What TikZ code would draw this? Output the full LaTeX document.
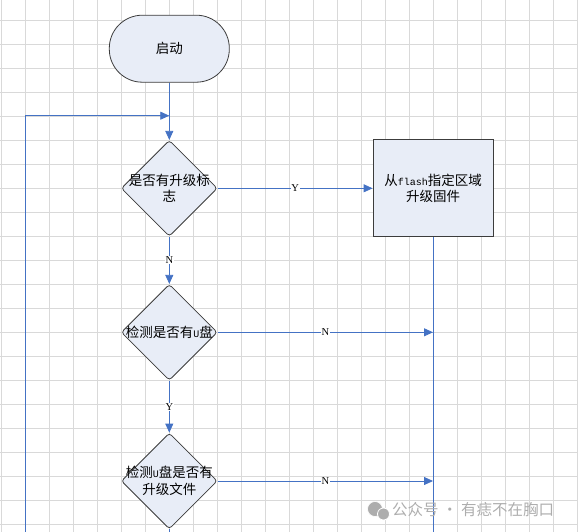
\documentclass[tikz,border=0pt]{standalone}
\usepackage{fontspec}
\setmainfont{Noto Sans CJK SC}
\newfontfamily\latinmono{Liberation Mono}
\newfontfamily\latinserif{Liberation Serif}
\usetikzlibrary{arrows.meta,shapes.geometric}
\definecolor{flowblue}{HTML}{4472C4}
\definecolor{shapefill}{HTML}{E8EDF7}
\definecolor{shapeedge}{HTML}{3C3C3C}
\definecolor{gridgray}{HTML}{D9D9D9}
\definecolor{markgray}{HTML}{ADADAD}
\newcommand{\lat}[1]{{\latinmono\fontsize{10}{12}\selectfont #1}}

\begin{document}
\begin{tikzpicture}[x=1pt, y=-1pt,
		cjk/.style={font=\fontsize{13.5}{16.7}\selectfont, align=center, inner sep=0pt},
		startbox/.style={draw=shapeedge, fill=shapefill, rectangle, rounded corners=33pt, minimum width=120pt, minimum height=67pt, line width=0.8pt},
		decide/.style={draw=shapeedge, fill=shapefill, diamond, rounded corners=3pt, minimum width=96pt, minimum height=96pt, inner sep=0pt, line width=0.8pt},
		actbox/.style={draw=shapeedge, fill=shapefill, rectangle, minimum width=120pt, minimum height=97pt, line width=0.8pt},
		flow/.style={draw=flowblue, line width=0.8pt},
		flowarrow/.style={flow, -{Triangle[length=9pt, width=8pt]}},
		yn/.style={font=\latinserif\fontsize{10.5}{10.5}\selectfont, fill=white, inner sep=0.6pt}]
	%%%%% START %%%%%
	
	\useasboundingbox (0,0) rectangle (578,532);
	
	% background grid
	\foreach \gx in {1,25,...,577} \draw[gridgray, line width=0.8pt] (\gx,0) -- (\gx,532);
	\foreach \gy in {20.3,44.3,...,525} \draw[gridgray, line width=0.8pt] (0,\gy) -- (578,\gy);
	
	% shapes
	\node[startbox] (start) at (169.3,48.7) {};
	\node[cjk] (starttxt) at (start) {启动};
	
	\node[decide] (d1) at (169.3,188.3) {};
	\node[cjk] (d1txt) at (d1) {是否有升级标\\志};
	
	\node[actbox] (act) at (433,188.3) {};
	\node[cjk] (acttxt) at (act) {从\lat{flash}指定区域\\升级固件};
	
	\node[decide] (d2) at (169.3,332.3) {};
	\node[cjk] (d2txt) at (d2) {检测是否有\lat{U}盘};
	
	\node[decide] (d3) at (169.3,481) {};
	\node[cjk] (d3txt) at (d3) {检测\lat{U}盘是否有\\升级文件};
	
	% connectors
	\coordinate (join) at (169.3,115.7);
	\coordinate (loopfoot) at (25.3,532);
	\coordinate (actfoot) at (433,532);
	\coordinate (d3foot) at (169.3,532);
	
	\draw[flowarrow] (start.south) -- (d1.north);
	\draw[flowarrow] (loopfoot) -- (loopfoot |- join) -- (join);
	\draw[flowarrow] (d1.east) -- node[yn] (y1) {Y} (act.west);
	\draw[flowarrow] (d1.south) -- node[yn] (n1) {N} (d2.north);
	\draw[flowarrow] (d2.east) -- node[yn] (n2) {N} (d2.east -| act.south);
	\draw[flowarrow] (d2.south) -- node[yn] (y2) {Y} (d3.north);
	\draw[flowarrow] (d3.east) -- node[yn] (n3) {N} (d3.east -| act.south);
	\draw[flow] (act.south) -- (actfoot);
	\draw[flow] (d3.south) -- (d3foot);
	
	% watermark
	\fill[markgray, draw=white, line width=0.6pt] (375,509) circle (7.5);
	\fill[markgray, draw=white, line width=0.8pt] (383.5,514) circle (6);
	\node[font=\fontsize{15.5}{16}\selectfont, text=markgray, anchor=west, inner sep=0pt] (mark) at (392,510) {公众号 · 有痣不在胸口};
	
	%%%%% END %%%%%
\end{tikzpicture}
\end{document}
